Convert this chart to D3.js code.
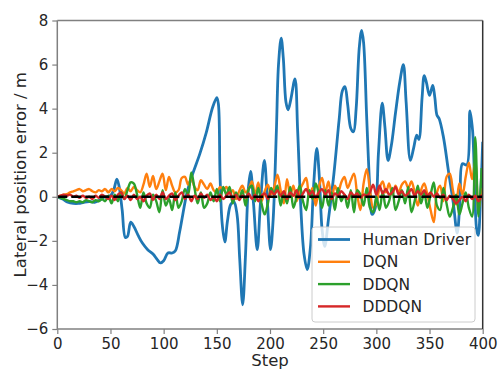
<!DOCTYPE html>
<html>
<head>
<meta charset="utf-8">
<script src="https://cdn.jsdelivr.net/npm/d3@7"></script>
<style>
  body { margin: 0; background: #fff; }
  text { font-family: "DejaVu Sans", sans-serif; fill: #262626; }
</style>
</head>
<body>
<div id="chart"></div>
<script>
// Human driver: knots [step] / [value]
const hdSteps = [0, 5, 10, 15, 20, 25, 30, 35, 40, 45, 50, 53, 56, 58, 61, 64, 66, 69, 72, 76,
  80, 85, 90, 94, 97, 100, 104, 108, 111, 115, 118, 122, 127, 134, 140, 146, 150, 151.5, 153, 155,
  157.5, 160, 163, 166, 169, 171.5, 174.3, 177, 179.5, 181.8, 184.5, 188, 191, 194.7, 197.5, 200.5, 203, 206, 208, 210.5,
  212.5, 215, 217, 219.5, 223.5, 226, 229, 232, 235, 238, 241, 244, 246.5, 249, 251.5, 255, 260, 265, 268, 270.5,
  273, 276, 278.5, 281, 284, 286.2, 288, 291, 294, 296, 299, 302, 305.5, 308, 311, 314, 318, 322, 325.4, 328,
  332, 335, 338, 340, 343, 345, 347, 350, 353, 355, 357, 359, 363, 367.7, 372.4, 376, 378.7, 381, 385, 388,
  390.5, 394.3, 395.8, 398, 400];
const hdValues = [0, -0.1, -0.25, -0.3, -0.3, -0.25, -0.22, -0.25, -0.15, 0, 0.05, 0.3, 0.8, 0.5, -0.6, -1.85, -1.8, -1.15, -1.35, -1.75,
  -2.1, -2.4, -2.6, -2.85, -3.0, -2.9, -2.55, -2.55, -2.45, -1.6, -0.8, 0.2, 1.0, 1.95, 2.9, 4.05, 4.5, 4.2, 1.0, -1.2,
  -2.05, -1.1, -0.35, -0.22, -0.8, -2.8, -4.9, -2.6, 0.3, 1.15, -0.3, -2.4, -0.3, 1.65, -0.2, -2.4, -1.0, 3.0, 6.0, 7.2,
  6.3, 4.3, 3.95, 4.4, 5.35, 3.0, -0.5, -2.6, -3.3, -2.3, 0.5, 2.2, 0.8, -1.5, -2.25, -1.0, 1.0, 3.5, 4.8, 5.0,
  4.2, 3.1, 2.95, 4.0, 6.8, 7.55, 7.0, 3.5, 0.3, -0.8, -0.5, 2.0, 4.25, 3.2, 1.65, 2.3, 3.8, 5.2, 6.0, 4.3,
  1.65, 2.2, 2.8, 2.6, 4.5, 5.5, 5.2, 4.6, 5.05, 4.5, 3.7, 3.55, 2.73, 1.2, -0.3, -1.65, -0.15, 1.5, 1.44, 3.9,
  3.0, -1.5, -1.75, 0.0, 2.5];

// RL agents, one sample every 3 steps (0, 3, ..., 399)
const agentSteps = d3.range(0, 400, 3);
const dqnValues = [
  0.0, 0.05, 0.1, 0.12, 0.2, 0.25, 0.3, 0.35, 0.25, 0.3,
  0.35, 0.25, 0.2, 0.3, 0.25, 0.35, 0.2, 0.35, 0.25, 0.4,
  0.3, 0.15, 0.4, 0.25, 0.45, 0.3, 0.2, 0.55, 1.05, 0.45,
  0.95, 0.35, 0.7, 1.05, 0.3, 0.9, 0.5, 0.2, 0.3, 0.85,
  0.9, 0.55, 0.85, 0.45, 0.3, 0.75, 0.55, 0.35, 0.6, 0.3,
  0.2, 0.45, 0.3, 0.45, 0.15, 0.3, -0.1, 0.25, 0.5, 0.2,
  0.35, 0.7, 0.1, 0.65, -0.2, 0.25, 0.55, 0.1, 0.45, 1.0,
  0.3, -0.3, 0.8, 0.1, 0.5, -0.2, 0.3, 0.6, 0.85, 0.0,
  0.4, -0.4, 0.45, 0.85, 0.2, 0.7, -0.1, 0.5, 0.2, 0.65,
  0.9, 0.4, 0.75, 1.05, 0.1, -0.6, 0.6, 1.25, 0.3, -0.5,
  -0.3, 0.4, 0.7, 0.2, 0.6, 0.1, 0.5, 0.2, 0.55, 0.7,
  0.4, 0.7, 0.2, -0.4, 0.3, 0.6, 0.1, -0.6, -1.15, 0.2,
  0.5, -0.2, 0.9, 1.05, 0.3, -0.35, 0.6, 0.1, 0.9, 1.55,
  0.8, 1.6, -0.6, 0.4];
const ddqnValues = [
  0.0, -0.05, -0.1, -0.15, -0.2, -0.2, -0.25, -0.2, -0.25, -0.15,
  -0.2, -0.25, -0.15, -0.2, -0.1, -0.2, 0.05, -0.3, 0.1, -0.2,
  0.2, -0.1, 0.3, 0.65, 0.6, 0.1, -0.5, 0.2, -0.3, -0.5,
  0.1, -0.2, -0.7, 0.3, -0.4, -0.1, -0.6, 0.2, -0.5, -0.2,
  0.35, 0.1, 1.1, 0.4, -0.3, 0.2, -0.5, -0.3, 0.2, -0.2,
  0.35, -0.2, 0.45, 0.1, 0.45, -0.3, 0.2, -0.1, 0.3, -0.4,
  0.35, 0.5, -0.2, 0.4, -0.3, -0.8, -0.3, 0.4, 0.1, 0.5,
  -0.4, 0.2, -0.3, 0.45, -0.5, 0.0, 0.5, -0.2, -0.6, 0.3,
  -0.1, 0.6, 0.1, -0.5, 0.3, -0.4, 0.2, -0.6, 0.4, -0.2,
  0.1, -0.5, 0.3, -0.7, 0.3, 0.1, -0.4, 0.4, -0.5, -0.7,
  0.0, -0.6, 0.25, -0.5, -0.2, 0.4, -0.6, -0.2, 0.3, -0.3,
  0.45, -0.7, -0.2, 0.5, -0.3, 0.2, -0.5, 0.1, 0.65, -0.4,
  -0.6, 0.4, -0.3, -0.9, -0.5, 0.1, -0.8, -0.3, 0.2, -0.5,
  -0.9, 2.7, -0.9, 1.3];
const dddqnValues = [
  0.0, 0.05, 0.1, 0.05, 0.1, 0.0, 0.05, -0.05, 0.05, -0.05,
  0.0, -0.1, 0.05, -0.05, 0.1, 0.0, -0.1, 0.05, -0.15, 0.1,
  0.2, -0.1, 0.05, -0.15, 0.1, -0.1, 0.0, -0.2, 0.05, 0.15,
  -0.15, 0.1, -0.1, 0.2, -0.1, 0.05, 0.15, -0.15, 0.05, 0.2,
  -0.1, 0.1, -0.2, 0.05, -0.1, 0.15, -0.05, 0.1, -0.15, 0.0,
  -0.2, 0.1, -0.1, 0.05, 0.2, -0.1, 0.1, -0.15, 0.05, -0.05,
  0.15, -0.1, 0.1, -0.2, 0.05, 0.15, -0.1, 0.25, 0.1, 0.3,
  0.05, 0.25, -0.1, 0.2, 0.05, 0.3, -0.05, 0.15, 0.35, 0.1,
  0.25, -0.05, 0.2, 0.35, 0.1, 0.3, -0.1, 0.15, 0.05, 0.25,
  0.1, -0.1, 0.2, 0.05, 0.15, -0.05, 0.1, 0.05, 0.2, 0.55,
  0.1, 0.5, 0.15, 0.35, 0.1, 0.2, 0.45, 0.1, 0.25, 0.05,
  0.15, 0.35, 0.05, 0.25, 0.1, 0.3, 0.05, 0.2, 0.0, 0.15,
  -0.05, 0.1, -0.15, 0.05, -0.1, -0.3, -0.15, 0.0, -0.2, 0.1,
  -0.1, 0.05, -0.2, 0.1];

const seriesNames = ['Human Driver', 'DQN', 'DDQN', 'DDDQN'];
const colors = ['#1f77b4', '#ff7f0e', '#2ca02c', '#d62728'];
const xTicks = [0, 50, 100, 150, 200, 250, 300, 350, 400];
const yTicks = [-6, -4, -2, 0, 2, 4, 6, 8];

const width = 499, height = 371;
const margin = { left: 57.3, right: 16.3, top: 20.5, bottom: 42 };

const svg = d3.select('#chart').append('svg')
  .attr('width', width).attr('height', height);

const x = d3.scaleLinear().domain([0, 400]).range([margin.left, width - margin.right]);
const y = d3.scaleLinear().domain([-6, 8]).range([height - margin.bottom, margin.top]);

svg.append('clipPath').attr('id', 'clip').append('rect')
  .attr('x', x(0)).attr('y', y(8)).attr('width', x(400) - x(0)).attr('height', y(-6) - y(8));

const plot = svg.append('g').attr('clip-path', 'url(#clip)');

const line = d3.line().x(d => x(d[0])).y(d => y(d[1])).curve(d3.curveCatmullRom.alpha(0.5));

const allSeries = [
  d3.zip(hdSteps, hdValues),
  d3.zip(agentSteps, dqnValues),
  d3.zip(agentSteps, ddqnValues),
  d3.zip(agentSteps, dddqnValues)
];

allSeries.forEach((s, i) => {
  plot.append('path')
    .datum(s)
    .attr('d', line)
    .attr('fill', 'none')
    .attr('stroke', colors[i])
    .attr('stroke-width', i === 0 ? 2.8 : 2.4)
    .attr('stroke-linejoin', 'round');
});

// zero reference
plot.append('line')
  .attr('x1', x(0)).attr('x2', x(400))
  .attr('y1', y(0)).attr('y2', y(0))
  .attr('stroke', '#000').attr('stroke-width', 2.6)
  .attr('stroke-dasharray', '10,4');

// axes
const xAxis = svg.append('g')
  .attr('transform', `translate(0,${y(-6)})`)
  .call(d3.axisBottom(x).tickValues(xTicks).tickSize(5).tickPadding(4));
const yAxis = svg.append('g')
  .attr('transform', `translate(${x(0)},0)`)
  .call(d3.axisLeft(y).tickValues(yTicks).tickSize(5).tickPadding(4).tickFormat(d3.format('d')));

[xAxis, yAxis].forEach(g => {
  g.selectAll('.domain').remove();
  g.selectAll('.tick line').attr('stroke', '#808080').attr('stroke-width', 1.2);
  g.selectAll('.tick text').style('font-size', '15px').style('font-family', '"DejaVu Sans", sans-serif').attr('fill', '#262626');
});

// spines
const spine = (x1, y1, x2, y2, c) => svg.append('line')
  .attr('x1', x1).attr('y1', y1).attr('x2', x2).attr('y2', y2)
  .attr('stroke', c).attr('stroke-width', 1.5);
spine(x(0), y(8), x(400), y(8), '#808080');
spine(x(0), y(-6), x(400), y(-6), '#808080');
spine(x(0), y(8), x(0), y(-6), '#808080');
spine(x(400), y(8), x(400), y(-6), '#333');

// labels
svg.append('text')
  .attr('x', (x(0) + x(400)) / 2).attr('y', 366)
  .attr('text-anchor', 'middle').style('font-size', '16.5px')
  .text('Step');
svg.append('text')
  .attr('transform', `translate(26,${(y(8) + y(-6)) / 2}) rotate(-90)`)
  .attr('text-anchor', 'middle').style('font-size', '16.5px')
  .text('Lateral position error / m');

// legend
const lg = svg.append('g');
lg.append('rect')
  .attr('x', 312).attr('y', 227).attr('width', 163).attr('height', 95)
  .attr('rx', 3).attr('fill', '#fff').attr('fill-opacity', 0.8)
  .attr('stroke', '#ccc').attr('stroke-width', 1);
seriesNames.forEach((name, i) => {
  const yy = 239.5 + i * 22.3;
  lg.append('line').attr('x1', 318).attr('x2', 350).attr('y1', yy).attr('y2', yy)
    .attr('stroke', colors[i]).attr('stroke-width', i === 0 ? 2.8 : 2.4);
  lg.append('text').attr('x', 362.5).attr('y', yy + 5.5)
    .style('font-size', '15.5px').text(name);
});
</script>
</body>
</html>
